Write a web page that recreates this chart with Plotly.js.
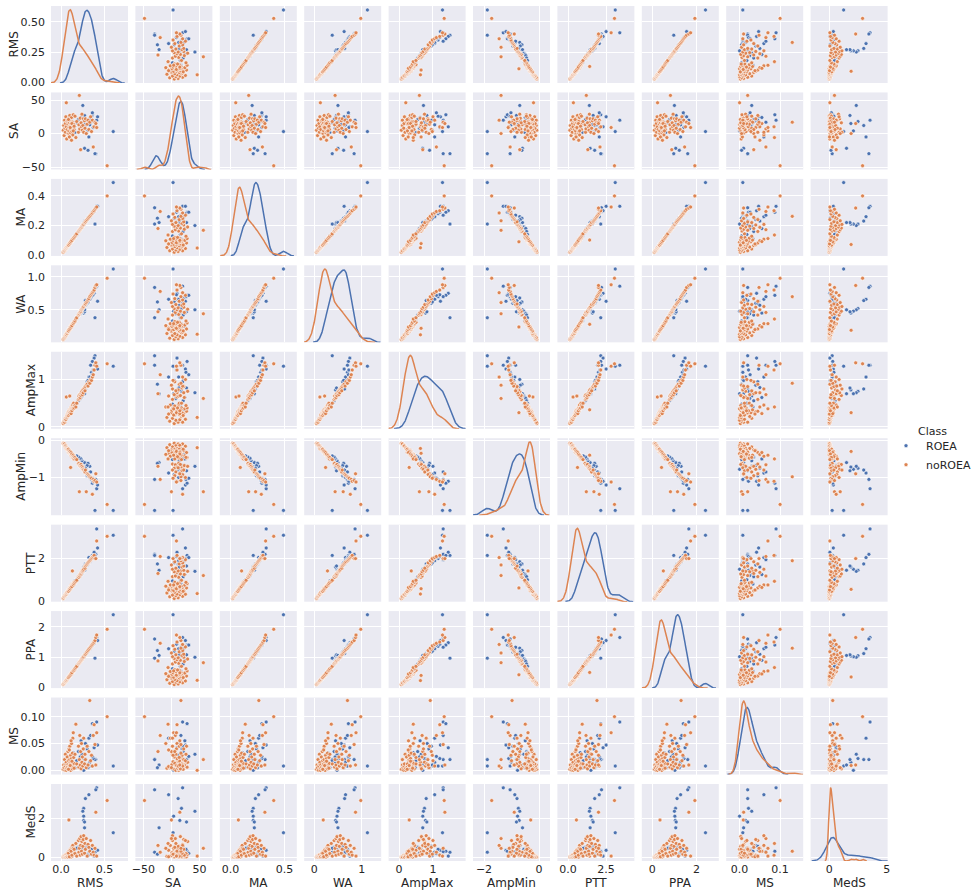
<!DOCTYPE html>
<html><head><meta charset="utf-8">
<script src="https://cdn.plot.ly/plotly-3.0.1.min.js"></script>
<style>html,body{margin:0;padding:0;background:#fff}#chart{width:978px;height:891px}</style>
</head><body><div id="chart"></div>
<script>
// ---------------- data ----------------
const variables = ['RMS','SA','MA','WA','AmpMax','AmpMin','PTT','PPA','MS','MedS'];
const classNames = ['ROEA','noROEA'];
const legendTitle = 'Class';

// class ROEA
const roeaRMS = [0.60,0.41,0.40,0.32,0.28,0.26,0.25,0.26,0.26,0.27,0.27,0.42,0.39,0.38,0.36,0.34,0.33,0.31,0.30,0.24,0.23,0.22,0.20,0.18,0.13,0.15,0.16,0.30,0.33,0.35,0.37,0.14,0.31,0.12,0.28,0.36];
const roeaSA = [3,20,-30,-5,12,18,42,4,15,27,-22,25,-30,10,28,17,22,-25,19,14,24,8,21,16,6,11,2,20,13,26,9,17,5,23,14,31];
const roeaMA = [0.49,0.33,0.32,0.26,0.23,0.21,0.20,0.21,0.21,0.22,0.22,0.33,0.21,0.30,0.29,0.27,0.26,0.25,0.24,0.19,0.18,0.18,0.16,0.14,0.10,0.12,0.13,0.24,0.26,0.28,0.29,0.11,0.25,0.10,0.23,0.29];
const roeaWA = [1.12,0.86,0.84,0.66,0.64,0.52,0.50,0.48,0.45,0.47,0.50,0.63,0.38,0.75,0.72,0.70,0.68,0.62,0.60,0.48,0.45,0.44,0.42,0.38,0.27,0.31,0.33,0.60,0.66,0.70,0.73,0.29,0.62,0.25,0.57,0.72];
const roeaAmpMax = [1.28,1.30,1.30,1.05,0.80,0.75,0.72,0.70,0.78,0.82,0.70,1.22,1.50,1.45,1.38,1.30,1.00,0.90,0.88,0.65,0.62,0.60,0.55,0.50,0.40,0.45,0.48,0.95,1.05,1.15,1.20,0.42,0.98,0.36,0.83,1.10];
const roeaAmpMin = [-1.88,-1.30,-1.05,-0.88,-0.80,-0.75,-0.70,-0.78,-0.72,-0.82,-0.60,-1.20,-1.88,-1.10,-1.15,-0.85,-0.70,-0.62,-0.68,-0.55,-0.50,-0.48,-0.45,-0.42,-0.40,-0.45,-0.52,-0.95,-1.00,-1.05,-1.10,-0.42,-0.92,-0.38,-0.75,-1.02];
const roeaPTT = [3.10,3.40,2.20,2.05,1.75,1.45,1.40,1.50,1.60,1.65,1.45,2.50,2.15,2.30,2.15,1.95,1.85,1.75,1.70,1.30,1.25,1.20,1.15,1.00,0.75,0.85,0.95,1.75,1.90,2.00,2.10,0.80,1.80,0.70,1.60,2.05];
const roeaPPA = [2.40,1.65,1.60,1.28,1.12,1.05,1.00,1.02,1.04,1.08,1.06,1.55,0.97,1.48,1.40,1.33,1.30,1.22,1.18,0.94,0.90,0.86,0.78,0.70,0.50,0.58,0.62,1.17,1.28,1.36,1.43,0.54,1.20,0.47,1.10,1.40];
const roeaMS = [0.008,0.090,0.020,0.060,0.020,0.022,0.030,0.000,0.015,0.020,0.010,0.047,0.020,0.042,0.087,0.065,0.008,0.005,0.040,0.030,0.055,0.025,0.035,0.018,0.012,0.028,0.005,0.045,0.015,0.008,0.022,0.033,0.010,0.018,0.050,0.026];
const roeaMedS = [1.25,3.55,3.45,3.20,3.00,2.50,2.35,2.10,1.88,1.80,1.50,0.35,0.25,0.05,0.30,0.28,0.20,0.15,0.60,0.40,0.30,0.20,0.50,0.45,0.10,0.35,0.15,0.55,0.25,0.40,0.12,0.30,0.08,0.20,0.45,0.18];

// class noROEA
const noroeaRMS = [0.025,0.03,0.035,0.04,0.045,0.05,0.05,0.055,0.06,0.06,
 0.065,0.07,0.07,0.075,0.08,0.08,0.085,0.09,0.09,0.09,
 0.095,0.10,0.10,0.10,0.105,0.11,0.11,0.11,0.115,0.12,
 0.12,0.12,0.125,0.13,0.13,0.13,0.135,0.14,0.145,0.15,
 0.085,0.095,0.105,0.115,0.125,0.14,0.15,0.16,0.17,0.18,
 0.20,0.205,0.21,0.215,0.22,0.225,0.23,0.235,0.24,0.245,
 0.25,0.255,0.26,0.27,0.275,0.28,0.29,0.30,0.31,0.32,
 0.33,0.34,0.35,0.36,0.37,0.38,0.39,0.40,0.41,0.53];
const noroeaSA = [5,12,-3,20,8,15,2,25,46,10,
 -8,18,6,20,0,14,22,0,9,4,
 16,11,-5,27,7,13,19,1,18,10,
 -10,24,3,12,17,8,-2,28,14,6,
 21,-5,9,15,15,4,11,26,-6,18,
 2,13,57,7,23,-24,16,10,29,5,
 12,22,2,19,8,22,0,14,20,6,
 17,25,3,20,-20,10,17,15,9,-48];
const noroeaMA = [0.02,0.025,0.03,0.03,0.035,0.04,0.042,0.045,0.048,0.05,
 0.052,0.055,0.058,0.06,0.065,0.063,0.068,0.072,0.07,0.074,
 0.076,0.08,0.078,0.082,0.085,0.088,0.09,0.086,0.092,0.095,
 0.097,0.1,0.1,0.104,0.102,0.106,0.108,0.112,0.115,0.12,
 0.068,0.076,0.084,0.092,0.1,0.112,0.12,0.128,0.136,0.144,
 0.16,0.163,0.168,0.172,0.175,0.18,0.183,0.188,0.19,0.196,
 0.2,0.204,0.208,0.215,0.22,0.225,0.232,0.24,0.248,0.255,
 0.262,0.27,0.278,0.285,0.295,0.3,0.31,0.318,0.325,0.40];
const noroeaWA = [0.05,0.06,0.07,0.08,0.09,0.1,0.11,0.12,0.13,0.12,
 0.14,0.15,0.14,0.16,0.17,0.18,0.18,0.19,0.2,0.2,
 0.2,0.21,0.22,0.21,0.23,0.23,0.24,0.25,0.25,0.26,
 0.26,0.27,0.27,0.28,0.28,0.29,0.29,0.3,0.31,0.32,
 0.18,0.2,0.22,0.24,0.26,0.29,0.31,0.33,0.36,0.38,
 0.42,0.43,0.44,0.46,0.46,0.47,0.48,0.5,0.51,0.52,
 0.53,0.54,0.55,0.57,0.58,0.59,0.61,0.63,0.65,0.67,
 0.7,0.72,0.74,0.76,0.78,0.8,0.84,0.87,0.88,0.98];
const noroeaAmpMax = [0.07,0.1,0.12,0.1,0.14,0.15,0.18,0.16,0.2,0.63,
 0.2,0.22,0.25,0.24,0.3,0.26,0.28,0.3,0.32,0.25,
 0.35,0.3,0.65,0.33,0.36,0.38,0.3,0.35,0.4,0.34,
 0.42,0.38,0.4,0.45,0.36,0.42,0.46,0.4,0.5,0.44,
 0.24,0.27,0.3,0.28,0.34,0.38,0.4,0.45,0.42,0.5,
 0.58,0.65,0.6,0.68,0.62,0.7,0.66,0.72,0.75,0.68,
 0.78,0.72,0.8,0.82,0.76,0.85,0.88,0.9,0.86,0.95,
 0.92,1.0,0.98,1.05,1.1,1.2,1.3,1.35,1.28,1.33];
const noroeaAmpMin = [-0.08,-0.1,-0.12,-0.1,-0.15,-0.14,-0.18,-0.16,-0.2,-0.22,
 -0.2,-0.22,-0.24,-0.25,-0.26,-0.24,-0.28,-0.3,-0.27,-0.32,
 -0.3,-0.32,-0.35,-0.33,-0.34,-0.36,-0.73,-0.34,-0.38,-0.4,
 -0.38,-0.42,-0.4,-0.44,-0.4,-0.45,-0.43,-0.46,-0.48,-0.5,
 -0.24,-0.28,-0.3,-0.33,-0.37,-0.4,-0.44,-0.46,-0.5,-0.52,
 -0.64,-0.62,-1.38,-0.66,-0.68,-0.7,-0.65,-0.72,-0.7,-0.75,
 -0.74,-0.78,-0.8,-0.82,-0.85,-0.8,-1.38,-0.9,-0.92,-0.95,
 -0.98,-1.0,-1.02,-1.45,-1.05,-1.1,-1.08,-0.9,-1.12,-1.72];
const noroeaPTT = [0.12,0.15,0.2,0.22,0.25,0.3,0.28,0.32,0.35,0.33,
 0.38,0.4,0.42,0.45,0.48,0.46,0.5,0.55,0.52,0.5,
 0.55,0.6,0.58,0.62,0.6,0.65,0.62,0.68,0.7,0.72,
 0.7,0.75,0.72,0.78,1.42,0.8,0.76,0.82,0.85,0.88,
 0.46,0.52,0.58,0.64,0.68,0.76,0.82,0.88,0.93,0.98,
 1.15,1.12,1.2,1.18,1.25,1.3,1.28,1.35,1.4,1.38,
 1.42,1.45,1.5,1.6,1.55,1.65,1.7,1.75,1.8,1.85,
 1.9,1.95,2.0,2.05,2.1,2.15,2.0,2.0,2.83,3.05];
const noroeaPPA = [0.1,0.12,0.14,0.16,0.18,0.19,0.2,0.22,0.24,0.23,
 0.26,0.28,0.27,0.3,0.31,0.32,0.34,0.35,0.36,0.34,
 0.37,0.39,0.4,0.38,0.41,0.43,0.42,0.44,0.45,0.47,
 0.46,0.48,0.49,0.51,0.5,0.52,0.53,0.55,0.57,0.59,
 0.33,0.37,0.41,0.45,0.49,0.55,0.58,0.62,0.66,0.7,
 0.78,0.8,0.82,0.84,0.86,0.88,0.9,0.92,0.94,0.96,
 0.98,1.0,1.02,1.06,1.08,1.1,1.14,1.18,1.22,1.26,
 1.3,1.34,1.38,1.42,1.46,1.5,1.55,1.65,1.73,1.92];
const noroeaMS = [0.002,0.01,0.005,0.02,0.0,0.008,0.03,0.012,0.0,0.015,
 0.004,0.025,0.01,0.006,0.035,0.002,0.018,0.009,0.04,0.012,
 0.003,0.02,0.007,0.045,0.014,0.0,0.028,0.011,0.005,0.022,
 0.05,0.008,0.016,0.003,0.032,0.01,0.06,0.006,0.024,0.013,
 0.002,0.038,0.009,0.055,0.017,0.07,0.004,0.03,0.086,0.012,
 0.045,0.006,0.02,0.065,0.01,0.035,0.003,0.05,0.015,0.025,
 0.008,0.04,0.06,0.012,0.03,0.02,0.005,0.045,0.01,0.035,
 0.13,0.018,0.028,0.008,0.065,0.085,0.048,0.01,0.07,0.10];
const noroeaMedS = [0.0,0.02,0.05,0.01,0.08,0.03,0.1,0.0,0.05,0.12,
 0.04,0.15,0.02,0.2,0.08,0.0,0.25,1.9,0.1,0.3,
 0.05,0.18,0.35,0.02,0.12,0.4,0.08,0.22,0.0,0.3,
 0.45,0.1,0.15,0.55,0.05,0.28,0.6,0.12,0.35,0.2,
 0.2,0.02,0.35,0.3,0.1,0.45,0.4,0.18,0.7,0.05,
 0.85,0.25,0.45,0.95,0.1,0.6,1.05,0.3,0.8,0.15,
 0.55,0.9,1.1,0.2,0.7,0.4,0.95,0.05,0.65,0.5,
 0.3,0.85,0.15,0.6,0.25,0.1,0.45,2.3,0.05,2.9];

// tick labels
const xTickVals = [[0,0.5],[-50,0,50],[0,0.5],[0,1],[0,1],[-2,0],[0,2.5],[0,2],[0,0.1],[0,5]];
const xTickText = [['0.0','0.5'],['\u221250','0','50'],['0.0','0.5'],['0','1'],['0','1'],['\u22122','0'],['0.0','2.5'],['0','2'],['0.0','0.1'],['0','5']];
const yTickVals = [[0,0.25,0.5],[-50,0,50],[0,0.2,0.4],[0.5,1],[0,1],[-1,0],[0,2],[0,1,2],[0,0.05,0.1],[0,2]];
const yTickText = [['0.00','0.25','0.50'],['\u221250','0','50'],['0.0','0.2','0.4'],['0.5','1.0'],['0','1'],['\u22121','0'],['0','2'],['0','1','2'],['0.00','0.05','0.10'],['0','2']];

// ---------------- layout / drawing ----------------
const classData = [
  [roeaRMS,roeaSA,roeaMA,roeaWA,roeaAmpMax,roeaAmpMin,roeaPTT,roeaPPA,roeaMS,roeaMedS],
  [noroeaRMS,noroeaSA,noroeaMA,noroeaWA,noroeaAmpMax,noroeaAmpMin,noroeaPTT,noroeaPPA,noroeaMS,noroeaMedS]
];
const colors = ['#4C72B0','#DD8452'];
const xRanges = [[-0.116,0.77],[-64.3,73.2],[-0.1,0.614],[-0.21,1.41],[-0.306,1.96],[-2.4,0.4],[-0.70,4.36],[-0.47,3.0],[-0.033,0.157],[-1.63,5.08]];
const yRanges = [[-0.008,0.633],[-53.6,61.4],[-0.005,0.515],[0.006,1.176],[-0.04,1.584],[-2.01,0.054],[-0.03,3.6],[-0.017,2.52],[-0.0078,0.1356],[-0.2,3.75]];
const yTitleX = [14,14,21,21,31,21,31,31,14,31]; // pixel centre of the rotated row titles

const W=978,H=891,L=51,T=6,PW=838,PH=854.6,CW=77,CS=84.4,RH=77,RS=86.4;
const N = variables.length;
const xid = c => 'x'+(c?c+1:'');
const yid = r => 'y'+(r?r+1:'');
const px2x = p => (p-L)/PW;
const py2y = p => 1-(p-T)/PH;

function kde(vals){
  const n=vals.length;
  const s=[...vals].sort((a,b)=>a-b);
  const mean=vals.reduce((a,b)=>a+b,0)/n;
  const sd=Math.sqrt(vals.reduce((a,b)=>a+(b-mean)*(b-mean),0)/(n-1));
  const q=p=>{const h=(n-1)*p, lo=Math.floor(h); return s[lo]+(s[Math.min(lo+1,n-1)]-s[lo])*(h-lo);};
  const iqr=q(0.75)-q(0.25);
  let A=Math.min(sd, iqr/1.349); if(!(A>0)) A=sd;
  const bw=1.059*A*Math.pow(n,-0.2);
  const lo=s[0]-3*bw, hi=s[n-1]+3*bw, G=200;
  const xs=[],ys=[];
  for(let i=0;i<G;i++){
    const x=lo+(hi-lo)*i/(G-1); let d=0;
    for(const v of vals){const z=(x-v)/bw; d+=Math.exp(-0.5*z*z);}
    xs.push(x); ys.push(d/(n*bw*Math.sqrt(2*Math.PI)));
  }
  return {xs,ys};
}

const traces=[];
const annotations=[];
const txt={family:'DejaVu Sans, sans-serif',color:'#262626'};
const layout={
  width:W,height:H,
  margin:{l:L,r:W-L-PW,t:T,b:H-T-PH,pad:0,autoexpand:false},
  paper_bgcolor:'#ffffff',plot_bgcolor:'#EAEAF2',
  font:{family:'DejaVu Sans, sans-serif',size:11,color:'#262626'},
  showlegend:true,
  legend:{x:px2x(886),xanchor:'left',y:py2y(431),yanchor:'top',
    bgcolor:'rgba(0,0,0,0)',borderwidth:0,font:{size:11,color:'#262626'},
    tracegroupgap:0,itemclick:false},
  hovermode:false,
  annotations:annotations
};
annotations.push({text:legendTitle,xref:'paper',yref:'paper',x:px2x(932),y:py2y(431),
  xanchor:'center',yanchor:'middle',showarrow:false,font:Object.assign({size:11},txt)});

for(let c=0;c<N;c++){
  const x0=c*CS/PW, x1=(c*CS+CW)/PW;
  layout['xaxis'+(c?c+1:'')]={domain:[x0,Math.min(x1,1)],anchor:yid(N-1),range:xRanges[c],
    tickmode:'array',tickvals:xTickVals[c],ticktext:xTickText[c],ticks:'',ticklabelstandoff:0,
    showgrid:true,gridcolor:'#ffffff',gridwidth:1,zeroline:false,showline:false,
    tickfont:{size:11,color:'#262626'}};
  annotations.push({text:variables[c],xref:'paper',yref:'paper',x:(x0+x1)/2,y:py2y(883),
    xanchor:'center',yanchor:'middle',showarrow:false,font:Object.assign({size:12},txt)});
}
for(let r=0;r<N;r++){
  const y1=1-(r*RS)/PH, y0=1-(r*RS+RH)/PH;
  layout['yaxis'+(r?r+1:'')]={domain:[Math.max(y0,0),y1],anchor:'x',range:yRanges[r],
    tickmode:'array',tickvals:yTickVals[r],ticktext:yTickText[r],ticks:'',ticklabelstandoff:5,
    showgrid:true,gridcolor:'#ffffff',gridwidth:1,zeroline:false,showline:false,
    tickfont:{size:11,color:'#262626'}};
  annotations.push({text:variables[r],xref:'paper',yref:'paper',x:px2x(yTitleX[r]),y:(y0+y1)/2,
    xanchor:'center',yanchor:'middle',textangle:-90,showarrow:false,font:Object.assign({size:12},txt)});
}

// diagonal: KDE on hidden overlay axes
for(let d=0;d<N;d++){
  traces.push({type:'scatter',mode:'markers',x:[],y:[],xaxis:xid(d),yaxis:yid(d),showlegend:false,hoverinfo:'skip'});
  const curves=classData.map(cd=>kde(cd[d]));
  const m=Math.max(...curves.map(k=>Math.max(...k.ys)));
  const oy=N+d;
  layout['yaxis'+(oy+1)]={overlaying:yid(d),anchor:xid(d),range:[0,m*1.05],visible:false,showgrid:false,zeroline:false};
  curves.forEach((k,ci)=>{
    traces.push({type:'scatter',mode:'lines',x:k.xs,y:k.ys,xaxis:xid(d),yaxis:yid(oy),
      line:{color:colors[ci],width:1.5},showlegend:false,hoverinfo:'skip'});
  });
}

// off-diagonal scatter
for(let ci=0;ci<2;ci++){
  let first=true;
  for(let r=0;r<N;r++){
    for(let c=0;c<N;c++){
      if(r===c) continue;
      traces.push({type:'scatter',mode:'markers',x:classData[ci][c],y:classData[ci][r],
        xaxis:xid(c),yaxis:yid(r),name:classNames[ci],legendgroup:classNames[ci],showlegend:first,
        marker:{color:colors[ci],size:4,line:{color:'#ffffff',width:0.6}},hoverinfo:'skip'});
      first=false;
    }
  }
}

Plotly.newPlot('chart',traces,layout,{displayModeBar:false,staticPlot:true});
</script>
</body></html>
